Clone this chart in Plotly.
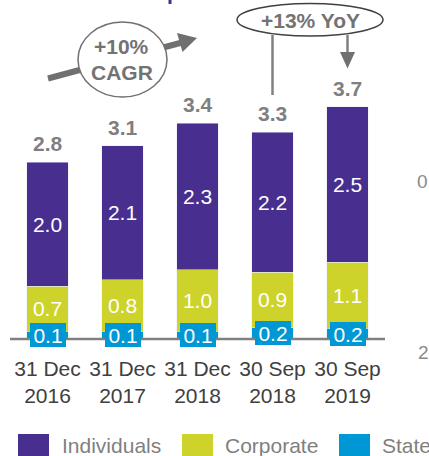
import plotly.graph_objects as go

# ---- data ----
categories = ["31 Dec<br>2016", "31 Dec<br>2017", "31 Dec<br>2018", "30 Sep<br>2018", "30 Sep<br>2019"]
individuals = [1.96, 2.12, 2.32, 2.22, 2.46]
corporate = [0.72, 0.82, 0.98, 0.88, 1.05]
state = [0.12, 0.12, 0.12, 0.18, 0.17]
series_names = ["Individuals", "Corporate", "State"]
cagr_text = ["+10%", "CAGR"]
yoy_text = "+13% YoY"

PURPLE = "#482F8F"
YELLOW = "#CDD32A"
BLUE = "#0098D4"
GRAY = "#7F7F7F"
FONT = "Liberation Sans, Arial, sans-serif"

W, H = 429, 456
BASE = 339          # pixel row of the zero line
PPU = 63.1          # pixels per unit
XSTEP = 75.0        # pixels per category
X0PX = 47.5         # pixel center of first category

xs = list(range(len(categories)))
totals = [round(a + b + c, 1) for a, b, c in zip(individuals, corporate, state)]
stack_tops = [a + b + c for a, b, c in zip(individuals, corporate, state)]

def px(x):
    return x / W

def py(y):
    return (BASE - y) / BASE

fig = go.Figure()
fig.add_trace(go.Bar(x=xs, y=state, name=series_names[2], marker_color=BLUE,
                     width=0.547, hoverinfo="skip"))
fig.add_trace(go.Bar(x=xs, y=corporate, name=series_names[1], marker_color=YELLOW,
                     width=0.547, texttemplate="%{y:.1f}", textposition="inside",
                     insidetextanchor="middle", textangle=0,
                     textfont=dict(color="white", size=21, family=FONT)))
fig.add_trace(go.Bar(x=xs, y=individuals, name=series_names[0], marker_color=PURPLE,
                     width=0.547, texttemplate="%{y:.1f}", textposition="inside",
                     insidetextanchor="middle", textangle=0,
                     textfont=dict(color="white", size=21, family=FONT)))

annotations = []
# state labels in blue boxes
for x, s in zip(xs, state):
    annotations.append(dict(x=x, y=s / 2, xref="x", yref="y", text=f"{s:.1f}",
                            showarrow=False, bgcolor=BLUE, width=36, height=24,
                            borderpad=0, borderwidth=0, xanchor="center", yanchor="middle",
                            font=dict(color="white", size=21, family=FONT)))
# totals
for x, t, top in zip(xs, totals, stack_tops):
    annotations.append(dict(x=x, y=top, xref="x", yref="y", text=f"<b>{t:.1f}</b>",
                            showarrow=False, xanchor="center", yanchor="bottom", yshift=5,
                            font=dict(color=GRAY, size=21, family=FONT)))

shapes = []
# baseline
shapes.append(dict(type="line", xref="paper", yref="paper", x0=px(10), x1=px(385),
                   y0=py(BASE), y1=py(BASE), line=dict(color="#808080", width=2.5)))
# CAGR arrow
shapes.append(dict(type="line", xref="paper", yref="paper", x0=px(48), y0=py(78.5),
                   x1=px(182), y1=py(42.5), line=dict(color="#707070", width=6)))
shapes.append(dict(type="circle", xref="paper", yref="paper", x0=px(78), x1=px(167),
                   y0=py(97), y1=py(22), fillcolor="white",
                   line=dict(color="#707070", width=1.5)))
shapes.append(dict(type="path", xref="paper", yref="paper",
                   path=f"M {px(197)} {py(38)} L {px(182.5)} {py(52)} L {px(177)} {py(33)} Z",
                   fillcolor="#707070", line=dict(width=0)))
# YoY connector
shapes.append(dict(type="line", xref="paper", yref="paper", x0=px(272.5), x1=px(272.5),
                   y0=py(35), y1=py(95), line=dict(color="#808080", width=2.5)))
shapes.append(dict(type="line", xref="paper", yref="paper", x0=px(347.5), x1=px(347.5),
                   y0=py(35), y1=py(55), line=dict(color="#808080", width=2.5)))
shapes.append(dict(type="path", xref="paper", yref="paper",
                   path=f"M {px(347.5)} {py(68.5)} L {px(340)} {py(52)} L {px(355)} {py(52)} Z",
                   fillcolor="#707070", line=dict(width=0)))
shapes.append(dict(type="circle", xref="paper", yref="paper", x0=px(237), x1=px(383),
                   y0=py(36), y1=py(3.5), fillcolor="white",
                   line=dict(color="#404040", width=1.5)))
# title fragment
shapes.append(dict(type="rect", xref="paper", yref="paper", x0=px(168.5), x1=px(171.5),
                   y0=py(4), y1=py(0), fillcolor=PURPLE, line=dict(width=0)))

def label(xp, yp, text, color, size, xanchor="center"):
    annotations.append(dict(x=px(xp), y=py(yp), xref="paper", yref="paper", text=text,
                            showarrow=False, xanchor=xanchor, yanchor="middle",
                            font=dict(color=color, size=size, family=FONT)))

label(122, 47, f"<b>{cagr_text[0]}</b>", "#737373", 21)
label(122, 72, f"<b>{cagr_text[1]}</b>", "#737373", 21)
label(310, 20, f"<b>{yoy_text}</b>", "#737373", 21)
# fragments of neighbouring chart
label(415, 181, "0", "#8a8a8a", 19, "left")
label(416, 352, "2", "#8a8a8a", 19, "left")

# legend
legend_items = [(series_names[0], PURPLE, 18, 60), (series_names[1], YELLOW, 182, 223),
                (series_names[2], BLUE, 339, 380)]
for name, col, sx, tx in legend_items:
    shapes.append(dict(type="rect", xref="paper", yref="paper", x0=px(sx), x1=px(sx + 31),
                       y0=py(470), y1=py(434), fillcolor=col, line=dict(width=0)))
    label(tx, 445, name, GRAY, 21, "left")

fig.update_layout(
    width=W, height=H, margin=dict(l=0, r=0, t=0, b=H - BASE, pad=0),
    barmode="stack", showlegend=False,
    plot_bgcolor="white", paper_bgcolor="white",
    xaxis=dict(range=[-X0PX / XSTEP, (W - X0PX) / XSTEP], tickvals=xs, ticktext=categories,
               showgrid=False, zeroline=False, showline=False, ticks="",
               ticklabelstandoff=15, automargin=False,
               tickfont=dict(color="#404040", size=21, family=FONT)),
    yaxis=dict(range=[0, BASE / PPU], visible=False),
    shapes=shapes, annotations=annotations,
)
fig.write_html("out.html", config={"displayModeBar": False},
               post_script="document.body.style.margin='0px';document.body.style.overflow='hidden';")
